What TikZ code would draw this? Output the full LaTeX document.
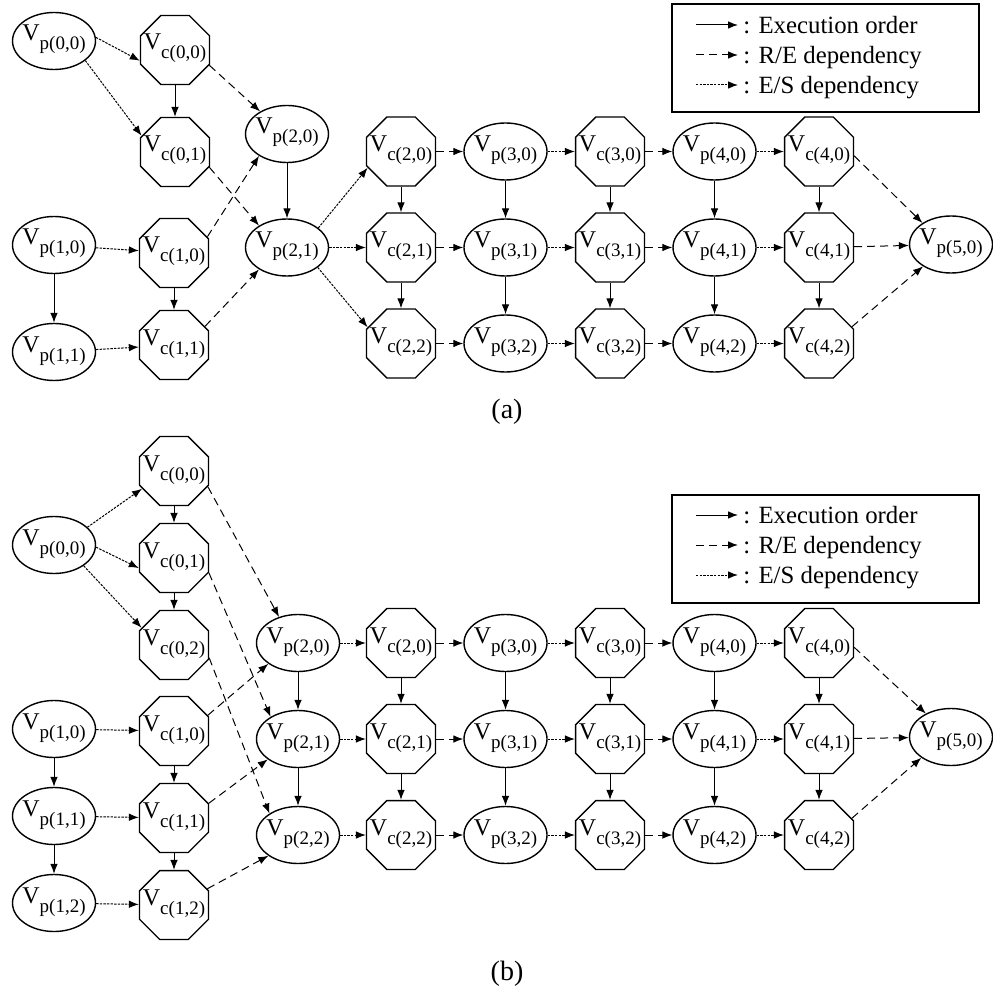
\documentclass[tikz,border=0pt]{standalone}
\usepackage{fontspec}
\setmainfont{Liberation Serif}
\usepackage{tikz}
\usetikzlibrary{positioning, shapes, arrows.meta}

% vertex label: V with a lowered index
\newcommand{\vlab}[2]{\makebox[0pt]{\fontsize{12}{14}\selectfont V\raisebox{-4.5pt}{\fontsize{9.5}{11}\selectfont #1(#2)}}}

\begin{document}
\begin{tikzpicture}[
    x=0.5pt, y=0.5pt, on grid,
    >={Latex[length=5pt, width=3.8pt]},
    vp/.style={ellipse, draw, line width=0.7pt, minimum width=41.5pt, minimum height=28.5pt, inner sep=0pt, text height=0pt, text depth=0pt},
    vc/.style={regular polygon, regular polygon sides=8, draw, line width=0.7pt, minimum size=37.3pt, inner sep=0pt, text height=0pt, text depth=0pt},
    exec/.style={->, line width=0.5pt},
    redep/.style={->, line width=0.5pt, dash pattern=on 4pt off 2.5pt},
    esdep/.style={->, line width=0.5pt, dash pattern=on 1.2pt off 0.6pt},
    legtext/.style={anchor=west, inner sep=1pt, text height=8.2pt, text depth=0pt, font=\fontsize{12.4}{14}\selectfont},
    caption/.style={font=\fontsize{14}{16}\selectfont},
    ]
   \useasboundingbox (0,0) rectangle (992,-994);

   %%%%% (a)
   % Inputs.
   \node[vp] (vp00_a) at (54,-41) {\vlab{p}{0,0}};
   \node[vc] (vc00_a) at (175,-50) {\vlab{c}{0,0}};
   \node[vc, below=51pt of vc00_a] (vc01_a) {\vlab{c}{0,1}};
   \node[vp] (vp10_a) at (54,-245) {\vlab{p}{1,0}};
   \node[vp, below=53.5pt of vp10_a] (vp11_a) {\vlab{p}{1,1}};
   \node[vc] (vc10_a) at (174,-253) {\vlab{c}{1,0}};
   \node[vc, below=46pt of vc10_a] (vc11_a) {\vlab{c}{1,1}};
   \node[vp] (vp20_a) at (287,-134) {\vlab{p}{2,0}};
   \node[vp, below=56.75pt of vp20_a] (vp21_a) {\vlab{p}{2,1}};

   % Grid.
   \node[vc, right=57pt of vp21_a] (vc21_a) {\vlab{c}{2,1}};
   \node[vc, above=48pt of vc21_a] (vc20_a) {\vlab{c}{2,0}};
   \node[vc, below=48pt of vc21_a] (vc22_a) {\vlab{c}{2,2}};
   \node[vp, right=52.25pt of vc20_a] (vp30_a) {\vlab{p}{3,0}};
   \node[vp, right=52.25pt of vc21_a] (vp31_a) {\vlab{p}{3,1}};
   \node[vp, right=52.25pt of vc22_a] (vp32_a) {\vlab{p}{3,2}};
   \node[vc, right=52.25pt of vp30_a] (vc30_a) {\vlab{c}{3,0}};
   \node[vc, right=52.25pt of vp31_a] (vc31_a) {\vlab{c}{3,1}};
   \node[vc, right=52.25pt of vp32_a] (vc32_a) {\vlab{c}{3,2}};
   \node[vp, right=52.25pt of vc30_a] (vp40_a) {\vlab{p}{4,0}};
   \node[vp, right=52.25pt of vc31_a] (vp41_a) {\vlab{p}{4,1}};
   \node[vp, right=52.25pt of vc32_a] (vp42_a) {\vlab{p}{4,2}};
   \node[vc, right=52.25pt of vp40_a] (vc40_a) {\vlab{c}{4,0}};
   \node[vc, right=52.25pt of vp41_a] (vc41_a) {\vlab{c}{4,1}};
   \node[vc, right=52.25pt of vp42_a] (vc42_a) {\vlab{c}{4,2}};
   \node[vp] (vp50_a) at (951,-244.5) {\vlab{p}{5,0}};

   \draw[esdep] (vp00_a.5) -- (vc00_a.197);
   \draw[esdep] (vp00_a.328) -- (vc01_a.154);
   \draw[exec] (vc00_a) -- (vc01_a);
   \draw[redep] (vc00_a.336) -- (vp20_a.140);
   \draw[redep] (vc01_a.336) -- (vp21_a.142);
   \draw[esdep] (vp10_a) -- (vc10_a);
   \draw[esdep] (vp11_a) -- (vc11_a);
   \draw[exec] (vp10_a) -- (vp11_a);
   \draw[exec] (vc10_a) -- (vc11_a);
   \draw[redep] (vc10_a.26) -- (vp20_a.218);
   \draw[redep] (vc11_a.31) -- (vp21_a.218);
   \draw[exec] (vp20_a) -- (vp21_a);
   \draw[esdep] (vp21_a.32) -- (vc20_a.206);
   \draw[esdep] (vp21_a) -- (vc21_a);
   \draw[esdep] (vp21_a.327) -- (vc22_a.154);

   \draw[redep] (vc20_a) -- (vp30_a);
   \draw[redep] (vc21_a) -- (vp31_a);
   \draw[redep] (vc22_a) -- (vp32_a);
   \draw[esdep] (vp30_a) -- (vc30_a);
   \draw[esdep] (vp31_a) -- (vc31_a);
   \draw[esdep] (vp32_a) -- (vc32_a);
   \draw[redep] (vc30_a) -- (vp40_a);
   \draw[redep] (vc31_a) -- (vp41_a);
   \draw[redep] (vc32_a) -- (vp42_a);
   \draw[esdep] (vp40_a) -- (vc40_a);
   \draw[esdep] (vp41_a) -- (vc41_a);
   \draw[esdep] (vp42_a) -- (vc42_a);

   \draw[exec] (vc20_a) -- (vc21_a);
   \draw[exec] (vc21_a) -- (vc22_a);
   \draw[exec] (vp30_a) -- (vp31_a);
   \draw[exec] (vp31_a) -- (vp32_a);
   \draw[exec] (vc30_a) -- (vc31_a);
   \draw[exec] (vc31_a) -- (vc32_a);
   \draw[exec] (vp40_a) -- (vp41_a);
   \draw[exec] (vp41_a) -- (vp42_a);
   \draw[exec] (vc40_a) -- (vc41_a);
   \draw[exec] (vc41_a) -- (vc42_a);

   \draw[redep] (vc40_a.353) -- (vp50_a.143);
   \draw[redep] (vc41_a) -- (vp50_a);
   \draw[redep] (vc42_a.27) -- (vp50_a.218);

   % Legend.
   \node[draw, line width=0.6pt, minimum width=153.5pt, minimum height=54pt] (legend_a) at (825.5,-58) {};
   \coordinate (ex0_a) at (696,-25);
   \coordinate (ex1_a) at (738,-25);
   \coordinate (re0_a) at (696,-55);
   \coordinate (re1_a) at (738,-55);
   \coordinate (es0_a) at (696,-85);
   \coordinate (es1_a) at (738,-85);
   \draw[exec] (ex0_a) -- (ex1_a);
   \draw[redep] (re0_a) -- (re1_a);
   \draw[esdep] (es0_a) -- (es1_a);
   \node[legtext] (exl_a) at (741,-25) {: Execution order};
   \node[legtext] (rel_a) at (741,-55) {: R/E dependency};
   \node[legtext] (esl_a) at (741,-85) {: E/S dependency};

   \node[caption] (cap_a) at (507,-412) {(a)};

   %%%%% (b)
   % Inputs.
   \node[vp] (vp00_b) at (54,-545) {\vlab{p}{0,0}};
   \node[vc] (vc00_b) at (174,-471) {\vlab{c}{0,0}};
   \node[vc, below=43.5pt of vc00_b] (vc01_b) {\vlab{c}{0,1}};
   \node[vc, below=43.5pt of vc01_b] (vc02_b) {\vlab{c}{0,2}};
   \node[vp] (vp10_b) at (54,-729) {\vlab{p}{1,0}};
   \node[vp, below=43.5pt of vp10_b] (vp11_b) {\vlab{p}{1,1}};
   \node[vp, below=43.5pt of vp11_b] (vp12_b) {\vlab{p}{1,2}};
   \node[vc] (vc10_b) at (174,-731) {\vlab{c}{1,0}};
   \node[vc, below=43.5pt of vc10_b] (vc11_b) {\vlab{c}{1,1}};
   \node[vc, below=43.5pt of vc11_b] (vc12_b) {\vlab{c}{1,2}};
   \node[vp] (vp20_b) at (298,-643) {\vlab{p}{2,0}};
   \node[vp, below=48pt of vp20_b] (vp21_b) {\vlab{p}{2,1}};
   \node[vp, below=48pt of vp21_b] (vp22_b) {\vlab{p}{2,2}};

   % Grid.
   \node[vc, right=51.5pt of vp20_b] (vc20_b) {\vlab{c}{2,0}};
   \node[vc, right=51.5pt of vp21_b] (vc21_b) {\vlab{c}{2,1}};
   \node[vc, right=51.5pt of vp22_b] (vc22_b) {\vlab{c}{2,2}};
   \node[vp, right=52.25pt of vc20_b] (vp30_b) {\vlab{p}{3,0}};
   \node[vp, right=52.25pt of vc21_b] (vp31_b) {\vlab{p}{3,1}};
   \node[vp, right=52.25pt of vc22_b] (vp32_b) {\vlab{p}{3,2}};
   \node[vc, right=52.25pt of vp30_b] (vc30_b) {\vlab{c}{3,0}};
   \node[vc, right=52.25pt of vp31_b] (vc31_b) {\vlab{c}{3,1}};
   \node[vc, right=52.25pt of vp32_b] (vc32_b) {\vlab{c}{3,2}};
   \node[vp, right=52.25pt of vc30_b] (vp40_b) {\vlab{p}{4,0}};
   \node[vp, right=52.25pt of vc31_b] (vp41_b) {\vlab{p}{4,1}};
   \node[vp, right=52.25pt of vc32_b] (vp42_b) {\vlab{p}{4,2}};
   \node[vc, right=52.25pt of vp40_b] (vc40_b) {\vlab{c}{4,0}};
   \node[vc, right=52.25pt of vp41_b] (vc41_b) {\vlab{c}{4,1}};
   \node[vc, right=52.25pt of vp42_b] (vc42_b) {\vlab{c}{4,2}};
   \node[vp] (vp50_b) at (951,-737) {\vlab{p}{5,0}};

   \draw[esdep] (vp00_b.28) -- (vc00_b.209);
   \draw[esdep] (vp00_b.357) -- (vc01_b.196);
   \draw[esdep] (vp00_b.325) -- (vc02_b.152);
   \draw[exec] (vc00_b) -- (vc01_b);
   \draw[exec] (vc01_b) -- (vc02_b);
   \draw[redep] (vc00_b.335) -- (vp20_b.126);
   \draw[redep] (vc01_b.337) -- (vp21_b.141);
   \draw[redep] (vc02_b.340) -- (vp22_b.143);
   \draw[esdep] (vp10_b) -- (vc10_b);
   \draw[esdep] (vp11_b) -- (vc11_b);
   \draw[esdep] (vp12_b) -- (vc12_b);
   \draw[exec] (vp10_b) -- (vp11_b);
   \draw[exec] (vp11_b) -- (vp12_b);
   \draw[exec] (vc10_b) -- (vc11_b);
   \draw[exec] (vc11_b) -- (vc12_b);
   \draw[redep] (vc10_b.25) -- (vp20_b.215);
   \draw[redep] (vc11_b.23) -- (vp21_b.214);
   \draw[redep] (vc12_b.26) -- (vp22_b.215);
   \draw[exec] (vp20_b) -- (vp21_b);
   \draw[exec] (vp21_b) -- (vp22_b);

   \draw[esdep] (vp20_b) -- (vc20_b);
   \draw[esdep] (vp21_b) -- (vc21_b);
   \draw[esdep] (vp22_b) -- (vc22_b);
   \draw[redep] (vc20_b) -- (vp30_b);
   \draw[redep] (vc21_b) -- (vp31_b);
   \draw[redep] (vc22_b) -- (vp32_b);
   \draw[esdep] (vp30_b) -- (vc30_b);
   \draw[esdep] (vp31_b) -- (vc31_b);
   \draw[esdep] (vp32_b) -- (vc32_b);
   \draw[redep] (vc30_b) -- (vp40_b);
   \draw[redep] (vc31_b) -- (vp41_b);
   \draw[redep] (vc32_b) -- (vp42_b);
   \draw[esdep] (vp40_b) -- (vc40_b);
   \draw[esdep] (vp41_b) -- (vc41_b);
   \draw[esdep] (vp42_b) -- (vc42_b);

   \draw[exec] (vc20_b) -- (vc21_b);
   \draw[exec] (vc21_b) -- (vc22_b);
   \draw[exec] (vp30_b) -- (vp31_b);
   \draw[exec] (vp31_b) -- (vp32_b);
   \draw[exec] (vc30_b) -- (vc31_b);
   \draw[exec] (vc31_b) -- (vc32_b);
   \draw[exec] (vp40_b) -- (vp41_b);
   \draw[exec] (vp41_b) -- (vp42_b);
   \draw[exec] (vc40_b) -- (vc41_b);
   \draw[exec] (vc41_b) -- (vc42_b);

   \draw[redep] (vc40_b.353) -- (vp50_b.137);
   \draw[redep] (vc41_b) -- (vp50_b);
   \draw[redep] (vc42_b.27) -- (vp50_b.215);

   % Legend.
   \node[draw, line width=0.6pt, minimum width=153.5pt, minimum height=54pt] (legend_b) at (825.5,-549) {};
   \coordinate (ex0_b) at (696,-515);
   \coordinate (ex1_b) at (738,-515);
   \coordinate (re0_b) at (696,-545);
   \coordinate (re1_b) at (738,-545);
   \coordinate (es0_b) at (696,-575);
   \coordinate (es1_b) at (738,-575);
   \draw[exec] (ex0_b) -- (ex1_b);
   \draw[redep] (re0_b) -- (re1_b);
   \draw[esdep] (es0_b) -- (es1_b);
   \node[legtext] (exl_b) at (741,-515) {: Execution order};
   \node[legtext] (rel_b) at (741,-545) {: R/E dependency};
   \node[legtext] (esl_b) at (741,-575) {: E/S dependency};

   \node[caption] (cap_b) at (507,-974) {(b)};

\end{tikzpicture}
\end{document}
